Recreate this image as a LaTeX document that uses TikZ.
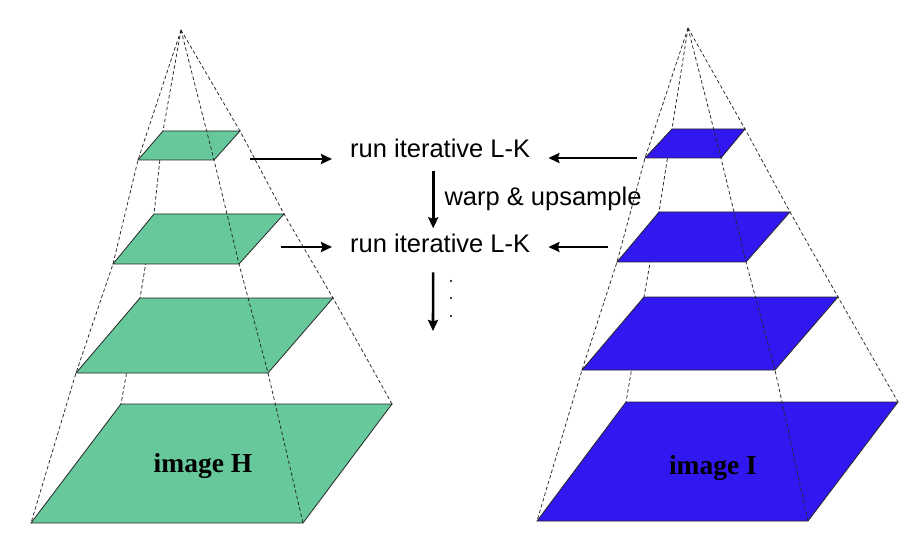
\documentclass[tikz,border=0pt]{standalone}
\usepackage{fontspec}
\setmainfont{Liberation Sans}
\newfontfamily\labfont{Liberation Serif}
\usetikzlibrary{arrows.meta}
\definecolor{greenH}{RGB}{102,200,155}
\definecolor{blueI}{RGB}{50,24,240}
\tikzstyle{planeH}=[fill=greenH, draw=black!85, line width=0.8pt]
\tikzstyle{planeI}=[fill=blueI, draw=black!85, line width=0.8pt]
\tikzstyle{edge}=[black!85, line width=0.75pt, dash pattern=on 3.5pt off 2.5pt]
\tikzstyle{arr}=[line width=2.6pt, -{Stealth[length=11pt,width=10pt,inset=1.5pt]}]
\tikzstyle{txt}=[inner sep=0pt, font={\fontsize{25.5}{30}\selectfont}]
\tikzstyle{imglab}=[inner sep=0pt, anchor=base, font={\labfont\bfseries\fontsize{27.5}{32}\selectfont}]

\begin{document}
\begin{tikzpicture}[x=1pt, y=-1pt]
\useasboundingbox (0,0) rectangle (916,540);
\fill[white] (0,0) rectangle (916,540);

% pyramid of image H
\draw[edge] (181,30) -- (138,160) -- (113,264) -- (76,373) -- (31,523);
\draw[edge] (181,30) -- (163,131) -- (154,214) -- (140,298) -- (121,404);
\draw[edge] (181,30) -- (240,131) -- (284,214) -- (333,298) -- (392,404);
\draw[planeH] (163,131) -- ++(77,0) -- ++(-26,29) -- ++(-76,0) -- cycle;
\draw[planeH] (154,214) -- ++(130,0) -- ++(-45,50) -- ++(-126,0) -- cycle;
\draw[planeH] (140,298) -- ++(193,0) -- ++(-65,75) -- ++(-192,0) -- cycle;
\draw[planeH] (121,404) -- ++(271,0) -- ++(-89,119) -- ++(-272,0) -- cycle;
\draw[edge] (181,30) -- (214,160) -- (239,264) -- (268,373) -- (303,523);
\node[imglab] (imgH) at (203,472) {image H};

% pyramid of image I
\draw[edge] (688,28) -- (645,158) -- (617,262) -- (582,370) -- (537,521);
\draw[edge] (688,28) -- (672,129) -- (659,212) -- (644,297) -- (626,402);
\draw[edge] (688,28) -- (745,129) -- (790,212) -- (838,297) -- (898,402);
\draw[planeI] (672,129) -- ++(73,0) -- ++(-24,29) -- ++(-76,0) -- cycle;
\draw[planeI] (659,212) -- ++(131,0) -- ++(-44,50) -- ++(-129,0) -- cycle;
\draw[planeI] (644,297) -- ++(194,0) -- ++(-63,73) -- ++(-193,0) -- cycle;
\draw[planeI] (626,402) -- ++(272,0) -- ++(-90,119) -- ++(-271,0) -- cycle;
\draw[edge] (688,28) -- (721,158) -- (746,262) -- (775,370) -- (808,521);
\node[imglab] (imgI) at (713,474) {image I};

% coarse to fine
\node[txt, anchor=base west] (lk1) at (350,158) {run iterative L-K};
\node[txt, anchor=base west] (lk2) at (350,253) {run iterative L-K};
\coordinate (fromH1) at (250,159);
\coordinate (fromH2) at (281,247);
\coordinate (fromI1) at (637,158);
\coordinate (fromI2) at (608,247);
\coordinate (more) at (433,331);
\draw[arr, shorten >=18pt] (fromH1) -- (fromH1 -| lk1.west);
\draw[arr, shorten >=18pt] (fromH2) -- (fromH2 -| lk2.west);
\draw[arr, shorten >=18pt] (fromI1) -- (fromI1 -| lk1.east);
\draw[arr, shorten >=18pt] (fromI2) -- (fromI2 -| lk2.east);
\draw[arr, shorten <=13pt, shorten >=6pt] ([xshift=-7pt]lk1.south) -- ([xshift=-7pt]lk2.north)
  node[txt, midway, anchor=west, xshift=10pt, yshift=-3pt] (warp) {warp \& upsample};
\draw[arr, shorten <=19pt] ([xshift=-7pt]lk2.south) -- (more);
\foreach \y in {281,298,316}
  \fill (451,\y) circle (1.2pt);
\end{tikzpicture}
\end{document}
